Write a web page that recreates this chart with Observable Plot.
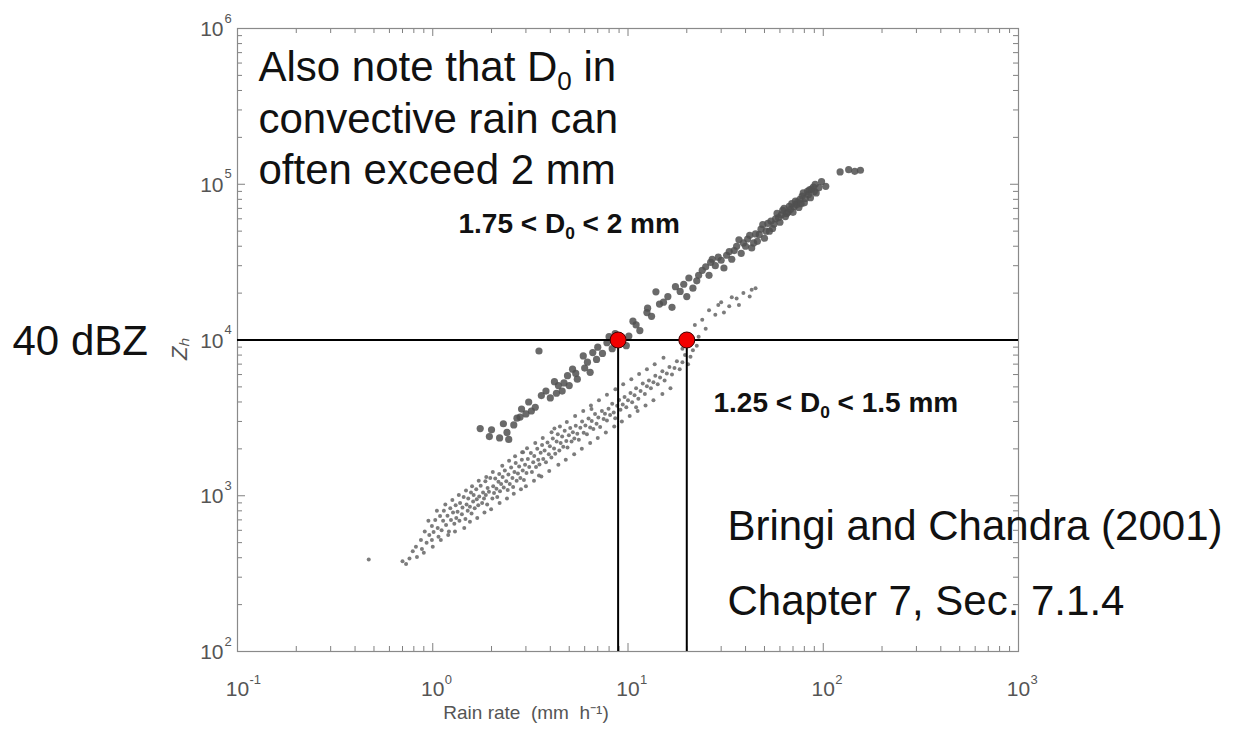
<!DOCTYPE html>
<html>
<head>
<meta charset="utf-8">
<script src="https://cdn.jsdelivr.net/npm/d3@7"></script>
<script src="https://cdn.jsdelivr.net/npm/@observablehq/plot@0.6"></script>
<style>
  body { margin: 0; background: #fff; }
  #chart svg { display: block; }
</style>
</head>
<body>
<div id="chart"></div>
<script>
// ---- Data: [rain rate R (mm/h), reflectivity Zh (mm^6 m^-3)] ----
// lower band: small dots
const smallDots = [
  [0.47,390],[0.70,380],[0.73,365],[0.76,395],[0.79,440],[0.82,470],[0.83,405],[0.87,520],[0.88,455],[0.91,590],[0.93,500],
  [0.96,560],[0.99,640],[0.99,520],[1.01,585],[1.03,700],[1.06,620],[1.07,545],[1.09,740],[1.11,600],[1.13,690],[1.14,800],
  [1.17,650],[1.19,745],[1.21,590],[1.23,830],[1.24,700],[1.27,780],[1.29,660],[1.31,870],[1.32,720],[1.34,790],[1.37,690],
  [1.38,900],[1.41,760],[1.42,840],[1.44,980],[1.47,710],[1.49,880],[1.51,800],[1.52,960],[1.55,850],[1.57,1050],[1.58,770],
  [1.61,920],[1.62,1010],[1.64,830],[1.67,1100],[1.68,950],[1.71,870],[1.73,990],[1.76,1160],[1.79,900],[1.81,1050],
  [1.83,960],[1.86,1240],[1.87,1010],[1.9,880],[1.91,1120],[1.94,1060],[1.97,1300],[2.02,960],[2.04,1150],[2.06,1040],
  [2.09,1290],[2.12,1110],[2.14,980],[2.17,1230],[2.19,1380],[2.21,1070],[2.24,1190],[2.28,1320],[2.31,1130],[2.34,1450],
  [2.38,1240],[2.42,1090],[2.44,1370],[2.48,1190],[2.52,1520],[2.56,1300],[2.58,1140],[2.62,1420],[2.66,1620],[2.69,1250],
  [2.73,1390],[2.77,1540],[2.81,1300],[2.86,1700],[2.89,1450],[2.93,1260],[2.97,1580],[3.02,1400],[3.07,1720],[3.12,1530],
  [3.18,1880],[3.22,1420],[3.27,1640],[3.31,1800],[3.38,1530],[3.43,2000],[3.47,1700],[3.52,1590],[3.57,1890],[3.63,2120],
  [3.68,1720],[3.74,1950],[3.8,1640],[3.87,2200],[3.93,1850],[3.98,2080],[4.05,1760],[4.12,2330],[4.18,2010],[4.24,1860],
  [4.31,2230],[4.37,2480],[4.45,1950],[4.52,2180],[4.6,2400],[4.66,2060],[4.74,2610],[4.83,2250],[4.9,2040],[4.98,2450],
  [5.06,2720],[5.14,2230],[5.22,2560],[5.31,2330],[5.4,2810],[5.5,2500],[5.6,2290],[5.7,2730],[5.82,3000],[5.93,2540],
  [6.05,2820],[6.16,2480],[6.28,3130],[6.4,2740],[6.52,3020],[6.65,2680],[6.78,3350],[6.9,2900],[7.05,3180],[7.2,2760],
  [7.35,3500],[7.5,3110],[7.62,3360],[7.8,3040],[7.95,3620],[8.1,3300],[8.3,3900],[8.45,3420],[8.6,3150],[8.8,3780],
  [9.0,4120],[9.15,3560],[9.4,3850],[9.6,4300],[9.8,3700],[10.0,4100],[10.3,4560],[10.5,3980],[10.8,4420],[11.0,4900],
  [11.3,4200],[11.6,4700],[11.9,5250],[12.2,4500],[12.5,5050],[12.8,5500],[13.1,4900],[13.5,5350],[13.8,5900],[14.2,5200],
  [14.6,5750],[15.0,6300],[15.4,5500],[15.8,6100],[16.3,6700],[16.8,6000],[17.3,6600],[17.8,7300],[18.4,6500],[19,7200],
  [19.6,8000],[20.3,7000],[20.9,7800],[21.5,8600],[19,8800],[21,9500],[22.5,9200],[23,10500],[22,12500],[24,13500],
  [25,11800],[26,15500],[28,14500],[29,16800],[30,17500],[31,15000],[33,16500],[34,18800],[36,18500],[37,16800],[39,20000],
  [42,19000],[43,21000],[45,21500],[4.2,2700],[6.5,3600],[2.9,1900],[11,3700],[3.5,1350],
  // outer edges of the band
  [0.9,430],[0.95,690],[1.0,470],[1.05,800],[1.1,520],[1.16,880],[1.2,560],[1.26,940],[1.3,590],[1.36,1010],
  [1.45,620],[1.48,1080],[1.55,680],[1.59,1150],[1.69,720],[1.72,1250],[1.84,780],[1.88,1320],[1.99,820],[2.03,1420],
  [2.2,900],[2.27,1560],[2.4,960],[2.46,1680],[2.6,1030],[2.64,1790],[2.83,1100],[2.87,1900],[3.0,1150],[3.04,2020],
  [3.3,1250],[3.35,2180],[3.6,1330],[3.66,2350],[3.95,1440],[4.06,2560],[4.4,1580],[4.48,2780],[4.8,1700],[4.86,2980],
  [5.3,1850],[5.36,3250],[5.8,2000],[5.9,3500],[6.4,2180],[6.46,3800],[7.0,2350],[7.1,4100],[7.7,2550],[7.8,4450],
  [8.5,2780],[8.62,4820],[9.3,3000],[9.45,5200],[10.2,3250],[10.4,5600],[11.2,3500],[11.4,6050],[12.3,3800],[12.5,6500],
  [13.5,4100],[13.7,7000],[15,4500],[15.2,7700],[16.5,4900]
];
// upper band: large dots
const largeDots = [
  [1.75,2700],[1.95,2400],[2.2,2350],[2.45,2300],[2.3,2900],[2.6,2850],[2.85,3600],[2.7,3150],[3.0,3350],[3.1,4000],
  [3.5,8500],[3.35,3700],[3.6,4400],[4.0,4250],[4.2,5400],[4.4,5100],[4.6,4700],[4.9,5900],[5.2,6500],[5.5,5600],
  [5.9,7900],[6.2,7200],[6.6,8300],[7.0,9000],[7.8,9600],[8.0,10500],[8.6,11000],[9.8,9200],[10.6,13200],[11.5,11500],
  [12.5,15000],[12.6,16000],[13.9,20400],[14.5,17000],[16,19000],[17.5,22000],[20,19000],[20.5,25000],[22.5,24000],
  [24,28000],[26,26000],[27,33000],[28,30000],[29,34000],[31,29000],[32,35000],[33,37000],[34,33000],[36,40000],
  [37,44000],[38,36000],[40,40000],[41,44500],[43,39000],[45,48000],[46,43000],[48,51500],[50,45000],[52,56000],
  [53,50000],[55,52000],[57,60000],[58,65000],[60,57000],[62,68000],[64,62000],[66,66000],[67,72000],[70,66000],
  [72,78000],[74,77000],[75,71000],[78,84000],[80,76000],[83,90000],[85,92000],[86,82000],[89,96000],[92,88000],
  [95,95000],[103,97000],[122,120000],[135,124000],[145,121000],[155,123000],
  [2.0,2650],[2.4,2550],[2.8,3200],[3.2,3500],[3.8,4700],[4.3,4550],[4.7,5300],[5.0,5100],[5.4,6100],[6.0,6600],
  [6.4,6200],[6.9,7500],[7.4,8200],[8.3,8800],[9.2,9800],[10.1,10600],[11.0,12500],[13.2,14200],[15.2,17500],[16.8,16200],
  [18.5,20500],[19.3,22800],[21.5,21500],[23,26000],[25,29500],[26.5,31500],[30,32500],[35,37500],[39,42000],[42,47000],
  [44,42000],[47,47500],[49,55000],[51,50000],[54,58000],[56,55500],[59,61000],[61,63500],[63,70000],[65,65000],
  [68,69000],[69,75000],[71,72000],[73,74000],[76,80000],[77,75000],[79,88000],[81,81000],[84,86000],[87,93000],
  [90,90000],[91,100000],[98,104000]
];

// ---- Axes ----
const xMajor = [0.1, 1, 10, 100, 1000];
const xExp = ["-1", "0", "1", "2", "3"];
const yMajor = [100, 1000, 10000, 100000, 1000000];
const yExp = ["2", "3", "4", "5", "6"];
const xMinor = [0.2,0.3,0.4,0.5,0.6,0.7,0.8,0.9, 2,3,4,5,6,7,8,9, 20,30,40,50,60,70,80,90, 200,300,400,500,600,700,800,900];
const yMinor = [200,300,400,500,600,700,800,900, 2000,3000,4000,5000,6000,7000,8000,9000,
                20000,30000,40000,50000,60000,70000,80000,90000, 200000,300000,400000,500000,600000,700000,800000,900000];

// ---- Reference markers ----
const refZ = [10000];          // 40 dBZ
const refR = [8.9, 20];        // rain rates at which each band reaches 40 dBZ

// ---- Annotation texts ----
const noteText = "Also note that D\u2080 in\nconvective rain can\noften exceed 2 mm";
const upperLabel = "1.75 < D\u2080 < 2 mm";
const lowerLabel = "1.25 < D\u2080 < 1.5 mm";
const dbzLabel = "40 dBZ";
const refLine1 = "Bringi and Chandra (2001)";
const refLine2 = "Chapter 7, Sec. 7.1.4";
const xLabel = "Rain rate  (mm  h\u207B\u00B9)";
const yLabel = "Z\u2095";

// ---- Geometry helpers (tick lengths in pixels converted to log-factor) ----
const ML = 237, MR = 216, MT = 28, MB = 81, W = 1234, H = 732;
const pxPerDecX = (W - ML - MR) / 4, pxPerDecY = (H - MT - MB) / 4;
const fX = px => Math.pow(10, px / pxPerDecX);
const fY = px => Math.pow(10, px / pxPerDecY);
const tickCol = "#808080", labCol = "#555";
const font = "'Liberation Sans', Arial, Helvetica, sans-serif";

const chart = Plot.plot({
  width: W, height: H,
  marginLeft: ML, marginRight: MR, marginTop: MT, marginBottom: MB,
  x: {type: "log", domain: [0.1, 1000], axis: null},
  y: {type: "log", domain: [100, 1e6], axis: null},
  style: {fontFamily: font, background: "white", overflow: "visible"},
  marks: [
    // inward ticks
    Plot.ruleX(xMajor, {x: d => d, y1: 100, y2: 100 * fY(8), stroke: tickCol}),
    Plot.ruleX(xMajor, {x: d => d, y1: 1e6, y2: 1e6 / fY(8), stroke: tickCol}),
    Plot.ruleX(xMinor, {x: d => d, y1: 100, y2: 100 * fY(5), stroke: tickCol}),
    Plot.ruleX(xMinor, {x: d => d, y1: 1e6, y2: 1e6 / fY(5), stroke: tickCol}),
    Plot.ruleY(yMajor, {y: d => d, x1: 0.1, x2: 0.1 * fX(8), stroke: tickCol}),
    Plot.ruleY(yMajor, {y: d => d, x1: 1000, x2: 1000 / fX(8), stroke: tickCol}),
    Plot.ruleY(yMinor, {y: d => d, x1: 0.1, x2: 0.1 * fX(5), stroke: tickCol}),
    Plot.ruleY(yMinor, {y: d => d, x1: 1000, x2: 1000 / fX(5), stroke: tickCol}),
    Plot.frame({stroke: "#8a8a8a", strokeWidth: 1.2}),

    // tick labels
    Plot.text(xMajor, {x: d => d, frameAnchor: "bottom", text: () => "10", dy: 44, fontSize: 21, fill: labCol}),
    Plot.text(xMajor, {x: d => d, frameAnchor: "bottom", text: (d, i) => xExp[i], dx: 12, dy: 32, textAnchor: "start", fontSize: 13, fill: labCol}),
    Plot.text(yMajor, {y: d => d, frameAnchor: "left", text: () => "10", dx: -14, dy: 1, textAnchor: "end", fontSize: 21, fill: labCol}),
    Plot.text(yMajor, {y: d => d, frameAnchor: "left", text: (d, i) => yExp[i], dx: -13, dy: -10, textAnchor: "start", fontSize: 13, fill: labCol}),

    // axis labels
    Plot.text([xLabel], {frameAnchor: "bottom", text: d => d, dx: -102, dy: 67, fontSize: 19, fill: labCol}),
    Plot.text([yLabel], {frameAnchor: "left", text: d => d, dx: -58, dy: 20, rotate: -90, fontSize: 22, fontStyle: "italic", fill: labCol}),

    // scatter
    Plot.dot(smallDots, {x: d => d[0], y: d => d[1], r: 2, fill: "#6e6e6e", fillOpacity: 0.9}),
    Plot.dot(largeDots, {x: d => d[0], y: d => d[1], r: 3.6, fill: "#505050", fillOpacity: 0.85}),

    // reference lines and points
    Plot.ruleY(refZ, {y: d => d, stroke: "black", strokeWidth: 2}),
    Plot.ruleX(refR, {x: d => d, y1: 100, y2: refZ[0], stroke: "black", strokeWidth: 2}),
    Plot.dot(refR, {x: d => d, y: refZ[0], r: 8, fill: "#f20000", stroke: "#3a0000", strokeWidth: 1}),

    // annotations
    Plot.text([noteText], {frameAnchor: "top-left", text: d => d, dx: 21, dy: 16, textAnchor: "start", lineAnchor: "top",
      lineHeight: 1.226, fontSize: 42, fill: "#111"}),
    Plot.text([upperLabel], {frameAnchor: "top-left", text: d => d, dx: 221, dy: 185, textAnchor: "start", lineAnchor: "top",
      fontSize: 28, fontWeight: "bold", fill: "#111"}),
    Plot.text([lowerLabel], {frameAnchor: "top-left", text: d => d, dx: 476, dy: 364, textAnchor: "start", lineAnchor: "top",
      fontSize: 28, fontWeight: "bold", fill: "#111"}),
    Plot.text([dbzLabel], {frameAnchor: "top-left", text: d => d, dx: -225, dy: 297, textAnchor: "start", lineAnchor: "top",
      fontSize: 42, fill: "#111"}),
    Plot.text([refLine1], {frameAnchor: "top-left", text: d => d, dx: 490, dy: 482, textAnchor: "start", lineAnchor: "top",
      fontSize: 42, fill: "#111"}),
    Plot.text([refLine2], {frameAnchor: "top-left", text: d => d, dx: 490, dy: 557, textAnchor: "start", lineAnchor: "top",
      fontSize: 42, fill: "#111"})
  ]
});

// Render "D₀" with a real lowered, smaller "0" subscript
const SVGNS = "http://www.w3.org/2000/svg";
chart.querySelectorAll("text, tspan").forEach(el => {
  Array.from(el.childNodes).forEach(node => {
    if (node.nodeType !== 3 || !node.nodeValue.includes("\u2080")) return;
    const parts = node.nodeValue.split("\u2080");
    const frag = document.createDocumentFragment();
    parts.forEach((p, i) => {
      if (i > 0) {
        const sub = document.createElementNS(SVGNS, "tspan");
        sub.setAttribute("font-size", "62%");
        sub.setAttribute("baseline-shift", "-0.35em");
        sub.textContent = "0";
        frag.appendChild(sub);
      }
      if (p) {
        const rest = document.createElementNS(SVGNS, "tspan");
        rest.textContent = p;
        frag.appendChild(rest);
      }
    });
    el.replaceChild(frag, node);
  });
});

document.getElementById("chart").appendChild(chart);
</script>
</body>
</html>
